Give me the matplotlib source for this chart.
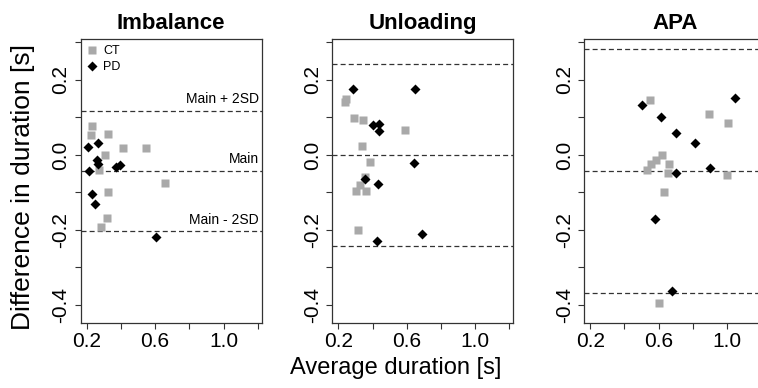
import numpy as np
from matplotlib import pyplot as plt
from matplotlib.lines import Line2D

plt.rcParams['font.family'] = ['Liberation Sans', 'DejaVu Sans']

titles = ["Imbalance", "Unloading", "APA"]

# CT (gray squares)
ct_x = [
    [0.229, 0.225, 0.327, 0.415, 0.547, 0.307, 0.274, 0.655, 0.325, 0.317, 0.282],
    [0.237, 0.245, 0.292, 0.342, 0.587, 0.338, 0.387, 0.355, 0.328, 0.302, 0.361, 0.316],
    [0.552, 0.896, 1.006, 0.617, 0.587, 0.554, 0.532, 0.660, 0.656, 1.000, 0.630, 0.601],
]
ct_y = [
    [0.078, 0.054, 0.056, 0.018, 0.018, -0.001, -0.040, -0.076, -0.098, -0.167, -0.193],
    [0.142, 0.149, 0.098, 0.093, 0.067, 0.024, -0.018, -0.058, -0.080, -0.095, -0.095, -0.200],
    [0.147, 0.109, 0.086, 0.000, -0.013, -0.025, -0.040, -0.025, -0.047, -0.053, -0.100, -0.396],
]

# PD (black diamonds)
pd_x = [
    [0.206, 0.268, 0.262, 0.264, 0.214, 0.372, 0.395, 0.229, 0.249, 0.604],
    [0.288, 0.646, 0.404, 0.440, 0.440, 0.640, 0.432, 0.355, 0.428, 0.689],
    [0.503, 1.045, 0.611, 0.701, 0.813, 0.902, 0.701, 0.581, 0.680],
]
pd_y = [
    [0.021, 0.031, -0.013, -0.024, -0.043, -0.031, -0.026, -0.105, -0.131, -0.220],
    [0.175, 0.175, 0.080, 0.083, 0.064, -0.022, -0.078, -0.065, -0.229, -0.211],
    [0.133, 0.151, 0.100, 0.058, 0.031, -0.036, -0.049, -0.171, -0.362],
]

# mean and mean +/- 2SD lines
upper = [0.118, 0.243, 0.283]
main = [-0.042, -0.001, -0.043]
lower = [-0.202, -0.243, -0.369]

GRAY = '#a9a9a9'
LINE = '#333333'

fig = plt.figure(figsize=(7.58, 3.88), dpi=100)
lefts = [0.1065, 0.4384, 0.7708]

for i in range(3):
    ax = fig.add_axes([lefts[i], 0.1683, 0.2388, 0.7312])
    ax.set_xlim(0.165, 1.223)
    ax.set_ylim(-0.4472, 0.3093)

    for yv in (upper[i], main[i], lower[i]):
        ax.axhline(yv, color=LINE, lw=0.9, ls=(0, (4, 2.5)), zorder=1)

    ax.plot(ct_x[i], ct_y[i], ls='none', marker='s', ms=5.2, color=GRAY,
            mec='none', zorder=2)
    ax.plot(pd_x[i], pd_y[i], ls='none', marker='D', ms=4.6, color='black',
            mec='none', zorder=3)

    ax.set_xticks([0.2, 0.6, 1.0])
    ax.set_xticks([0.4, 0.8, 1.2], minor=True)
    ax.set_yticks([-0.4, -0.2, 0.0, 0.2])
    ax.set_yticks([-0.3, -0.1, 0.1, 0.3], minor=True)
    ax.set_xticklabels(['0.2', '0.6', '1.0'])
    ax.set_yticklabels(['-0.4', '-0.2', '0.0', '0.2'], rotation=90, va='center')
    ax.tick_params(which='both', length=4.5, width=0.8, color=LINE,
                   labelsize=15, direction='out')
    ax.tick_params(axis='x', pad=2.5)
    ax.tick_params(axis='y', pad=3)
    for sp in ax.spines.values():
        sp.set_color(LINE)
        sp.set_linewidth(0.9)

    ax.set_title(titles[i], fontsize=16, fontweight='bold', pad=7)

    if i == 0:
        # labels for the lines
        xr = 1.205
        ax.text(xr, upper[i] + 0.012, 'Main + 2SD', ha='right', va='bottom', fontsize=10)
        ax.text(xr, main[i] + 0.012, 'Main', ha='right', va='bottom', fontsize=10)
        ax.text(xr, lower[i] + 0.010, 'Main - 2SD', ha='right', va='bottom', fontsize=10)

        handles = [
            Line2D([], [], ls='none', marker='s', ms=5.2, color=GRAY, mec='none'),
            Line2D([], [], ls='none', marker='D', ms=5.0, color='black', mec='none'),
        ]
        ax.legend(handles, ['CT', 'PD'], loc='upper left', frameon=False,
                  fontsize=9, handlelength=0.8, handletextpad=0.5,
                  borderaxespad=0.3, labelspacing=0.3, borderpad=0.2)

fig.text(0.0297, 0.519, 'Difference in duration [s]', rotation=90, ha='center',
         va='center', fontsize=19)
fig.text(0.522, 0.052, 'Average duration [s]', ha='center', va='center', fontsize=17)

plt.savefig('out.png', dpi=100)
